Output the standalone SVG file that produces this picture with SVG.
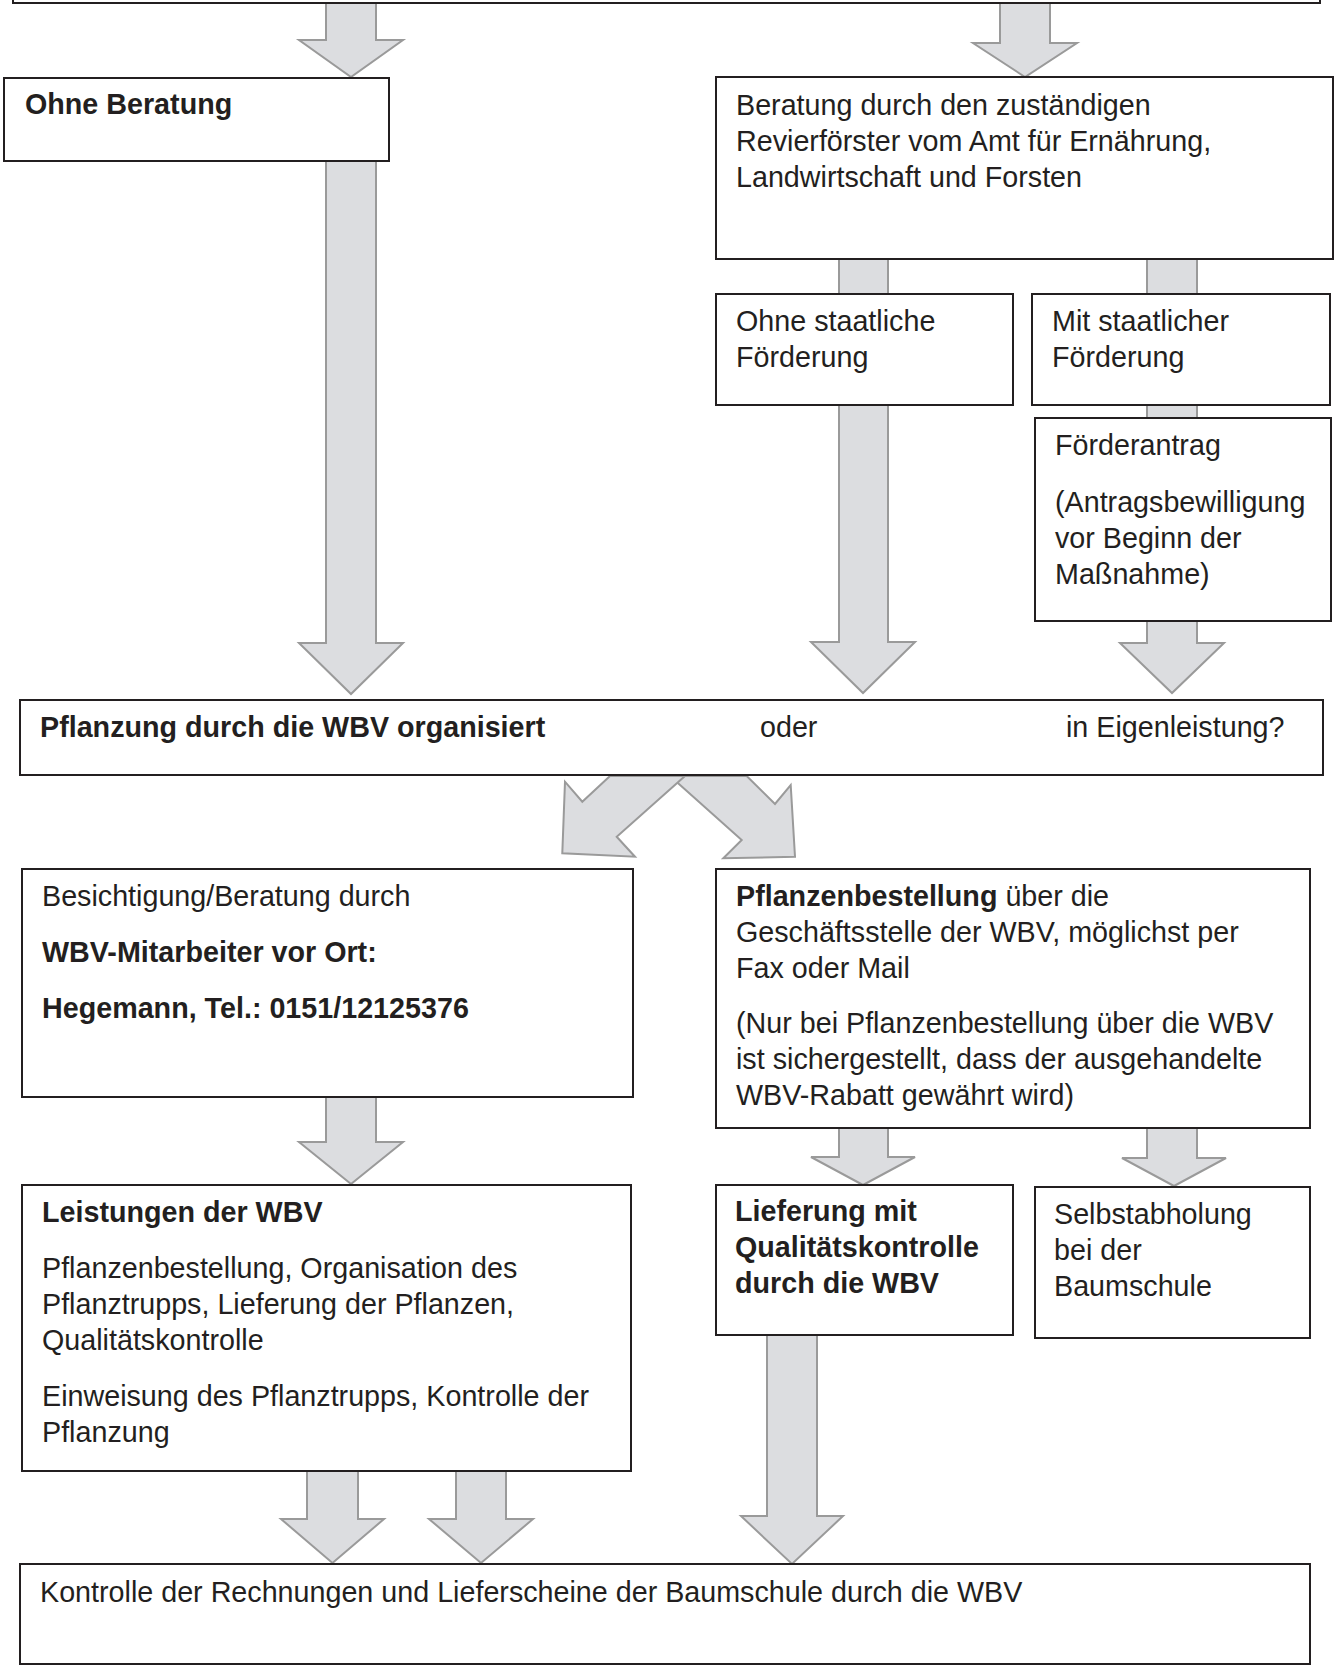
<svg xmlns="http://www.w3.org/2000/svg" width="1334" height="1665" viewBox="0 0 1334 1665">
<style>
.box{fill:#fff;stroke:#231f20;stroke-width:2}
.arr{fill:#dcdde0;stroke:#9a9a9a;stroke-width:2;stroke-linejoin:miter}
text{font-family:"Liberation Sans",Arial,sans-serif;font-size:28.7px;fill:#231f20}
.b{font-weight:bold}
</style>
<rect width="1334" height="1665" fill="#fff"/>
<g id="connectors">
<path class="arr" d="M326,3 H376 V40 H403 L351,77 L299,40 H326 Z"/>
<path class="arr" d="M1000,3 H1050 V43 H1077 L1025,77 L973,43 H1000 Z"/>
<path class="arr" d="M326,161 H376 V643 H403 L351,694 L299,643 H326 Z"/>
<path class="arr" d="M839,259 H888 V642 H915 L863,693 L811,642 H839 Z"/>
<path class="arr" d="M1147,259 H1197 V643 H1224 L1172,693 L1120,643 H1147 Z"/>
<path class="arr" d="M670,776 L741.7,840 L723.3,858.3 L795,856.7 L790.7,785 L775,804 L746.7,776 Z"/>
<path class="arr" d="M610,776 L582.3,801.7 L565,781.7 L562.3,853.3 L635,856.7 L616.7,836.7 L685,776 Z"/>
<path class="arr" d="M326,1097 H376 V1142 H403 L351,1184 L299,1142 H326 Z"/>
<path class="arr" d="M839,1128 H888 V1157 H915 L863,1185 L811,1157 H839 Z"/>
<path class="arr" d="M1147,1128 H1197 V1158 H1226 L1174,1186 L1122,1158 H1147 Z"/>
<path class="arr" d="M307,1471 H358 V1519 H384 L332.5,1563 L281,1519 H307 Z"/>
<path class="arr" d="M456,1471 H506 V1519 H533 L481,1563 L429,1519 H456 Z"/>
<path class="arr" d="M767,1335 H817 V1516 H843 L792,1564 L741,1516 H767 Z"/>
</g>
<g id="n-top"><rect class="box" x="13" y="-20" width="1307" height="23"/></g>
<g id="n-ohne-beratung">
<rect class="box" x="4" y="78" width="385" height="83"/>
<text class="b" x="25" y="114">Ohne Beratung</text>
</g>
<g id="n-beratung">
<rect class="box" x="716" y="77" width="617" height="182"/>
<text x="736" y="115">Beratung durch den zuständigen</text>
<text x="736" y="151">Revierförster vom Amt für Ernährung,</text>
<text x="736" y="187">Landwirtschaft und Forsten</text>
</g>
<g id="n-ohne-foerderung">
<rect class="box" x="716" y="294" width="297" height="111"/>
<text x="736" y="331">Ohne staatliche</text>
<text x="736" y="367">Förderung</text>
</g>
<g id="n-mit-foerderung">
<rect class="box" x="1032" y="294" width="298" height="111"/>
<text x="1052" y="331">Mit staatlicher</text>
<text x="1052" y="367">Förderung</text>
</g>
<g id="n-foerderantrag">
<rect class="box" x="1035" y="418" width="296" height="203"/>
<text x="1055" y="455">Förderantrag</text>
<text x="1055" y="512">(Antragsbewilligung</text>
<text x="1055" y="548">vor Beginn der</text>
<text x="1055" y="584">Maßnahme)</text>
</g>
<g id="n-pflanzung">
<rect class="box" x="20" y="700" width="1303" height="75"/>
<text class="b" x="40" y="737">Pflanzung durch die WBV organisiert</text>
<text x="760" y="737">oder</text>
<text x="1066" y="737">in Eigenleistung?</text>
</g>
<g id="n-besichtigung">
<rect class="box" x="22" y="869" width="611" height="228"/>
<text x="42" y="906">Besichtigung/Beratung durch</text>
<text class="b" x="42" y="962">WBV-Mitarbeiter vor Ort:</text>
<text class="b" x="42" y="1018">Hegemann, Tel.: 0151/12125376</text>
</g>
<g id="n-bestellung">
<rect class="box" x="716" y="869" width="594" height="259"/>
<text x="736" y="906"><tspan class="b">Pflanzenbestellung</tspan> über die</text>
<text x="736" y="942">Geschäftsstelle der WBV, möglichst per</text>
<text x="736" y="978">Fax oder Mail</text>
<text x="736" y="1033">(Nur bei Pflanzenbestellung über die WBV</text>
<text x="736" y="1069">ist sichergestellt, dass der ausgehandelte</text>
<text x="736" y="1105">WBV-Rabatt gewährt wird)</text>
</g>
<g id="n-leistungen">
<rect class="box" x="22" y="1185" width="609" height="286"/>
<text class="b" x="42" y="1222">Leistungen der WBV</text>
<text x="42" y="1278">Pflanzenbestellung, Organisation des</text>
<text x="42" y="1314">Pflanztrupps, Lieferung der Pflanzen,</text>
<text x="42" y="1350">Qualitätskontrolle</text>
<text x="42" y="1406">Einweisung des Pflanztrupps, Kontrolle der</text>
<text x="42" y="1442">Pflanzung</text>
</g>
<g id="n-lieferung">
<rect class="box" x="716" y="1185" width="297" height="150"/>
<text class="b" x="735" y="1221">Lieferung mit</text>
<text class="b" x="735" y="1257">Qualitätskontrolle</text>
<text class="b" x="735" y="1293">durch die WBV</text>
</g>
<g id="n-selbstabholung">
<rect class="box" x="1035" y="1187" width="275" height="151"/>
<text x="1054" y="1224">Selbstabholung</text>
<text x="1054" y="1260">bei der</text>
<text x="1054" y="1296">Baumschule</text>
</g>
<g id="n-kontrolle">
<rect class="box" x="20" y="1564" width="1290" height="100"/>
<text x="40" y="1602">Kontrolle der Rechnungen und Lieferscheine der Baumschule durch die WBV</text>
</g>
</svg>
